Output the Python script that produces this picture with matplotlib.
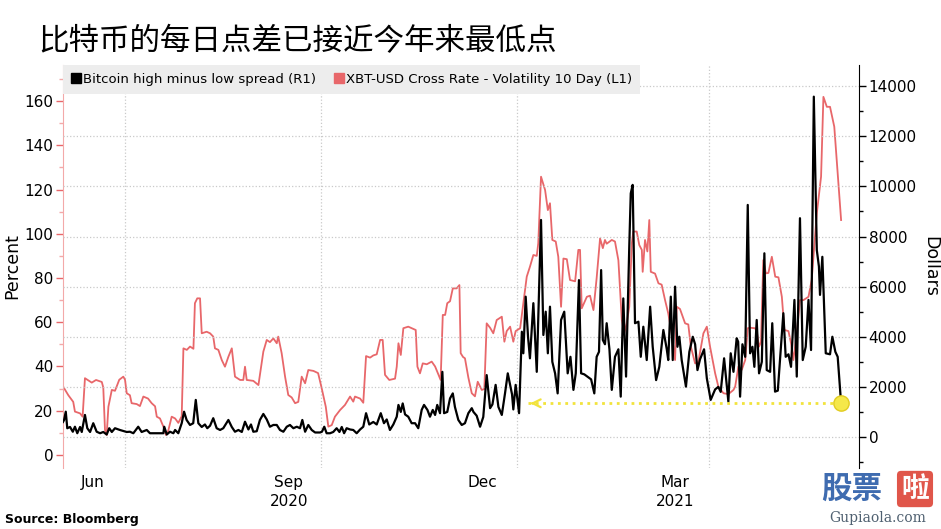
import pandas as pd
import matplotlib
matplotlib.use("Agg")
import matplotlib.pyplot as plt
from matplotlib.lines import Line2D
from matplotlib.ticker import MultipleLocator

plt.rcParams['font.family'] = ['DejaVu Sans', 'Noto Sans CJK SC']

start = pd.Timestamp("2020-06-02")

# XBT-USD 10 day volatility (percent, left axis); days after start
vol_days = [0, 2.5, 4.8, 5.6, 8.0, 9.2, 10.3, 13.5, 15.5, 18.2, 18.9, 19.7, 20.5, 21.3, 22.9, 24.4,
            26.4, 28.3, 29.1, 29.9, 31.4, 32.2, 34.6, 36.1, 37.7, 39.9, 41.6, 43.2, 44.0, 45.5, 47.1,
            48.3, 49.4, 51.0, 52.6, 54.1, 55.7, 56.5, 58.1, 59.6, 61.2, 61.9, 63.0, 64.3, 65.1, 67.4,
            69.0, 70.5, 71.3, 72.9, 74.5, 76.0, 77.6, 79.2, 80.7, 83.1, 84.6, 85.4, 86.2, 89.3, 91.7,
            94.0, 95.6, 97.1, 98.7, 100.3, 101.0, 102.6, 104.2, 105.7, 107.3, 108.9, 110.4, 112.0,
            113.6, 115.1, 117.5, 119.7, 121.4, 123.3, 124.5, 126.1, 127.6, 130.0, 132.3, 134.7, 136.2,
            137.0, 139.4, 140.9, 142.2, 144.1, 145.6, 147.2, 148.8, 150.0, 151.1, 153.1, 155.8, 156.6,
            157.4, 158.5, 159.7, 162.0, 164.4, 165.5, 166.3, 167.5, 168.8, 170.7, 173.0, 174.6, 177.2,
            178.2, 179.3, 180.3, 181.6, 182.9, 184.7, 186.0, 186.6, 187.7, 188.6, 190.2, 191.8, 193.3,
            194.6, 196.5, 197.7, 198.8, 200.4, 201.9, 203.5, 205.9, 207.1, 208.2, 209.8, 211.3, 212.4,
            214.5, 216.0, 217.6, 219.1, 220.7, 222.3, 223.0, 224.3, 226.2, 227.5, 228.5, 229.6, 231.2,
            232.4, 233.7, 234.8, 236.4, 237.9, 240.3, 241.8, 242.6, 243.4, 245.8, 247.3, 248.9, 250.4,
            252.0, 253.3, 254.3, 255.1, 257.5, 259.0, 260.6, 262.2, 263.3, 264.5, 265.7, 266.9, 267.6,
            269.2, 270.4, 271.6, 272.0, 273.1, 274.2, 275.1, 275.8, 277.8, 279.4, 280.9, 282.5, 284.0,
            285.6, 287.2, 288.0, 289.5, 291.9, 293.4, 294.6, 296.6, 298.1, 300.5, 302.1, 303.6, 306.0,
            307.5, 309.9, 312.2, 314.6, 315.4, 316.9, 318.5, 320.1, 321.3, 322.4, 324.7, 325.5, 326.6,
            327.5, 328.6, 329.8, 331.0, 332.6, 334.2, 335.7, 337.3, 338.5, 340.4, 341.6, 342.7, 344.3,
            345.8, 347.4, 349.8, 351.3, 353.7, 355.7, 356.8, 358.4, 359.9, 361.9, 365.1]
vol_pct = [31, 27, 24, 19.6, 18.8, 17.3, 34.7, 32.7, 33.9, 33, 30.5, 11.3, 9, 21.8, 29.4, 29,
           34, 35.4, 34, 27.9, 27, 23.4, 23, 22.1, 26.4, 25.5, 23.4, 22, 17.3, 16.5, 12.8,
           9, 11, 17.3, 16.5, 14.5, 17.5, 48.2, 47.5, 49, 48, 68.6, 70.8, 70.8, 55, 55.7,
           55, 53.5, 48.2, 47.5, 42.9, 39.9, 44.4, 48.2, 35.4, 33.9, 33.9, 39.9, 33.9, 33.5, 31.6,
           46.7, 52, 51, 52.7, 50.5, 53.5, 46, 35.4, 27.1, 26, 23.4, 24, 35.4,
           32.4, 38.4, 38, 37, 30.1, 21.8, 12.8, 13.5, 17.3, 20.3, 22.6, 26.4, 24.1,
           26.4, 25.5, 23.6, 44.7, 44, 45, 45.5, 52, 52, 36.2, 33.9, 34.5, 39.9,
           50.5, 45.2, 57.3, 58, 57, 56.5, 39.9, 36.9, 41.4, 41, 42.2, 40, 33.9,
           63.3, 63.3, 68.6, 69.5, 75.3, 75.3, 76.8, 46, 44.3, 43.7, 35, 27.9, 26.5,
           33.1, 29.4, 29.8, 59.5, 57.5, 55, 61, 62.5, 51.2, 56, 58, 51.2, 56,
           57.3, 68.6, 80.6, 85.1, 90.4, 90, 95.7, 125.8, 119.8, 110.7, 113.8, 97.2, 96.5,
           89.6, 67, 88.8, 88.5, 79.1, 78.5, 92.7, 92.7, 66.3, 71.5, 72, 65.5, 80,
           97.9, 93.5, 97.2, 95.5, 97.2, 96.5, 88, 61, 55, 59.5, 67, 95.7, 101,
           101, 94.9, 92.7, 82.8, 97.2, 92, 106.2, 82.8, 82, 77.6, 77, 70, 64,
           55, 42.9, 67, 66, 59.5, 59, 49, 41.4, 42, 55, 58, 49, 36.9,
           30.9, 27.9, 27.5, 29.4, 30.9, 39.9, 38.5, 42.9, 57.3, 57.5, 57.3, 56, 49,
           51, 88.1, 82.1, 82.3, 89.6, 80.6, 80.3, 71.5, 56.5, 56, 50.5, 42.9, 55,
           70, 70, 71.5, 79.1, 109.2, 125.8, 161.9, 157.4, 157.4, 148.4, 106.2]

# Bitcoin high minus low spread (dollars, right axis); days after start
spread_days = [0, 0.5, 1.3, 2.0, 3.3, 4.6, 5.6, 6.7, 8.0, 8.8, 10.3, 11.4, 12.7, 14.2, 15.8, 17.4,
               18.9, 20.5, 21.7, 22.9, 24.4, 26.7, 29.9, 31.4, 33.0, 35.3, 36.9, 39.3, 40.8, 45.5,
               47.1, 47.5, 48.7, 50.2, 51.8, 52.6, 54.1, 55.7, 56.8, 58.0, 59.6, 61.1, 62.3, 63.5,
               65.1, 66.6, 67.7, 69.0, 70.5, 72.1, 73.7, 75.2, 77.6, 79.2, 80.7, 82.3, 83.9, 85.4,
               87.0, 88.2, 89.3, 90.9, 92.4, 94.0, 95.6, 97.1, 98.7, 100.3, 101.8, 103.4, 105.0,
               106.5, 108.1, 109.7, 111.2, 112.3, 113.6, 115.1, 116.7, 118.3, 120.6, 121.5, 122.6,
               123.7, 125.3, 126.8, 128.4, 129.7, 130.8, 131.9, 133.1, 134.7, 136.2, 137.8, 139.4,
               140.9, 142.2, 143.7, 145.6, 147.2, 149.1, 150.6, 151.9, 153.4, 155.0, 156.6, 157.4,
               158.5, 159.4, 160.5, 162.0, 163.6, 165.2, 166.7, 168.3, 169.4, 171.0, 172.2, 173.5,
               174.6, 175.6, 176.9, 178.0, 178.8, 180.3, 181.6, 182.9, 183.9, 185.5, 187.1, 188.6,
               190.2, 191.8, 192.6, 194.1, 195.7, 197.2, 198.8, 200.4, 201.5, 203.0, 204.3, 205.9,
               207.4, 208.7, 210.7, 211.3, 212.4, 214.0, 215.3, 216.0, 217.1, 218.2, 219.1, 220.7,
               222.3, 224.3, 225.4, 226.5, 227.5, 228.5, 229.6, 230.9, 232.1, 233.7, 235.2, 236.8,
               238.1, 239.5, 240.6, 242.1, 243.1, 244.6, 246.2, 247.8, 249.3, 250.4, 251.5, 252.5,
               253.3, 254.3, 255.1, 256.4, 257.5, 259.0, 260.6, 261.7, 262.9, 264.2, 265.7, 266.4,
               267.3, 268.4, 270.0, 271.1, 272.3, 273.9, 275.5, 276.7, 278.3, 279.8, 281.7, 283.3,
               284.0, 285.2, 286.1, 287.2, 288.3, 289.2, 290.3, 292.3, 293.9, 295.5, 296.6, 297.7,
               298.9, 300.8, 302.1, 303.9, 306.0, 307.5, 308.6, 310.2, 312.2, 313.3, 314.6, 316.1,
               316.8, 317.7, 318.8, 320.1, 321.3, 322.4, 323.5, 324.4, 325.5, 326.6, 327.9, 329.1,
               330.2, 331.8, 332.8, 334.1, 335.4, 336.9, 338.0, 339.1, 340.4, 341.6, 343.2, 344.3,
               345.8, 347.1, 348.5, 349.8, 351.0, 352.3, 353.7, 354.7, 355.2, 356.3, 357.9, 359.9,
               361.0, 362.4, 363.5, 365.1]
spread_usd = [600, 680, 1010, 350, 400, 210, 410, 150, 400, 200, 880, 350, 200, 550, 210, 150,
              200, 100, 350, 200, 350, 280, 200, 210, 150, 410, 200, 280, 150, 150,
              150, 410, 100, 210, 150, 280, 150, 550, 1010, 680, 480, 550, 1480, 550,
              400, 500, 350, 450, 750, 350, 280, 350, 680, 400, 210, 280, 200, 610,
              300, 500, 210, 230, 680, 920, 700, 410, 480, 480, 280, 210, 410,
              480, 350, 410, 350, 680, 210, 480, 280, 180, 180, 210, 410,
              150, 150, 200, 350, 200, 400, 150, 350, 300, 280, 150, 300,
              410, 950, 500, 600, 500, 950, 550, 700, 280, 500, 810, 1280,
              1000, 1340, 900, 810, 550, 550, 350, 1080, 1280, 1080, 810, 1080,
              880, 1280, 950, 2600, 950, 1000, 1540, 1740, 1200, 680, 480, 550,
              950, 1150, 1000, 850, 410, 800, 2470, 1150, 1300, 2080, 1200, 880,
              1740, 2540, 1700, 1100, 2080, 950, 4200, 3340, 5600, 4000, 3140, 5340,
              2600, 8660, 4070, 5000, 3340, 5200, 3000, 2540, 1740, 4670, 5000, 2540,
              3200, 1880, 2540, 6260, 2540, 2500, 2400, 2300, 1740, 3200, 3400, 6660,
              3870, 3700, 4540, 3500, 1880, 3200, 3500, 1610, 5530, 2410, 7590, 9720,
              10060, 4540, 4600, 3200, 4400, 3070, 5200, 3600, 2270, 2800, 4270, 3500,
              3070, 5600, 3070, 6000, 3600, 4000, 3070, 2010, 3400, 4000, 3700, 2670,
              3100, 3500, 2340, 1480, 1900, 2000, 1800, 3140, 1410, 3340, 2600, 3940,
              3800, 1610, 3700, 3200, 9260, 3340, 3600, 2800, 4670, 2540, 3000, 7330,
              2670, 2600, 4540, 1810, 1850, 3600, 4940, 3200, 3300, 2800, 5470, 2410,
              8730, 3070, 3600, 5470, 3470, 13580, 7460, 6800, 5670, 7190, 3340, 3300,
              4000, 3400, 3200, 1345]

month_ticks = ["2020-06-16", "2020-09-16", "2020-12-16", "2021-03-16"]
month_labels = ["Jun", "Sep\n2020", "Dec", "Mar\n2021"]
quarter_lines = ["2020-07-01", "2020-10-01", "2021-01-01", "2021-04-01"]
arrow_start = "2021-01-06"

red = "#e8676a"
pink = "#f3a9a9"
grid_c = "#c9c9c9"

vol_dates = start + pd.to_timedelta(vol_days, unit="D")
spread_dates = start + pd.to_timedelta(spread_days, unit="D")

fig = plt.figure(figsize=(9.41, 5.29), dpi=100)
ax1 = fig.add_axes([63 / 941, 1 - 468 / 529, 796 / 941, 403 / 529])
ax2 = ax1.twinx()

# vertical grid at quarter starts
for q in quarter_lines:
    ax1.axvline(pd.Timestamp(q), color=grid_c, ls=":", lw=0.9, zorder=0)

ax1.plot(vol_dates, vol_pct, color=red, lw=1.3)
ax2.plot(spread_dates, spread_usd, color="black", lw=1.6)

ax1.set_xlim(start, pd.Timestamp("2021-06-10 12:00"))

# horizontal grid follows the right axis
ax2.yaxis.grid(True, color=grid_c, ls=":", lw=0.9)
ax2.set_axisbelow(True)

ax1.yaxis.set_major_locator(MultipleLocator(20))
ax1.yaxis.set_minor_locator(MultipleLocator(10))
ax1.set_ylim(-5.9, 176.3)
ax2.yaxis.set_major_locator(MultipleLocator(2000))
ax2.yaxis.set_minor_locator(MultipleLocator(1000))
ax2.set_ylim(-1237, 14843)

ax1.set_xticks(pd.to_datetime(month_ticks))
ax1.set_xticklabels(month_labels, fontsize=11, linespacing=1.35)
ax1.tick_params(axis="x", length=0, pad=5)

ax1.tick_params(axis="y", which="major", colors=red, length=5, width=1, labelsize=11,
                labelcolor="black", pad=2)
ax1.tick_params(axis="y", which="minor", colors=pink, length=3, width=1)
ax2.tick_params(axis="y", which="major", colors="black", length=5, width=1, labelsize=11, pad=2)
ax2.tick_params(axis="y", which="minor", colors="black", length=3, width=1)

for s in ["top", "bottom", "right"]:
    ax1.spines[s].set_visible(False)
for s in ["top", "bottom", "left"]:
    ax2.spines[s].set_visible(False)
ax1.spines["left"].set_color(pink)
ax2.spines["right"].set_color("black")

ax1.set_ylabel("Percent", fontsize=12.5)
ax1.yaxis.set_label_coords(-0.053, 0.5)
ax2.set_ylabel("Dollars", fontsize=12.5, rotation=270, va="center")
ax2.yaxis.set_label_coords(1.089, 0.5)

# yellow marker: latest spread compared with the low since early January
last_date = spread_dates[-1]
last_val = spread_usd[-1]
ax2.plot([pd.Timestamp(arrow_start), last_date], [last_val, last_val], color="#f2e33c",
         ls=":", lw=2.0, zorder=4)
ax2.annotate("", xy=(pd.Timestamp(arrow_start), last_val),
             xytext=(pd.Timestamp(arrow_start) + pd.Timedelta(days=4), last_val),
             arrowprops=dict(arrowstyle="->", color="#f2e33c", lw=1.6, mutation_scale=14),
             zorder=4)
ax2.plot([last_date], [last_val], marker="o", ms=11, mfc="#f5e84a", mec="#e2cc20", mew=1,
         zorder=5)

handles = [Line2D([0], [0], marker="s", color="black", ls="none", ms=7),
           Line2D([0], [0], marker="s", color=red, ls="none", ms=7)]
labels = ["Bitcoin high minus low spread (R1)", "XBT-USD Cross Rate - Volatility 10 Day (L1)"]
leg = ax2.legend(handles, labels, loc="upper left", bbox_to_anchor=(0, 1), ncol=2,
                 fontsize=9.5, frameon=True, fancybox=False, borderaxespad=0,
                 handlelength=0.7, handletextpad=0.2, columnspacing=1.4, borderpad=0.6)
leg.get_frame().set_facecolor("#ededed")
leg.get_frame().set_edgecolor("none")
leg.get_frame().set_alpha(1)

fig.text(38 / 941, 1 - 42 / 529, "比特币的每日点差已接近今年来最低点", fontsize=22,
         family="Noto Sans CJK SC", fontweight="medium", va="center", ha="left")
fig.text(5 / 941, 1 - 520 / 529, "Source: Bloomberg", fontsize=9, fontweight="bold",
         va="center", ha="left")

# site watermark
fig.text(852 / 941, 1 - 489 / 529, "股票", fontsize=22, fontweight="bold", color="#3f6cb0",
         family="Noto Sans CJK SC", ha="center", va="center")
fig.text(915 / 941, 1 - 489 / 529, "啦", fontsize=20, fontweight="bold", color="white",
         family="Noto Sans CJK SC", ha="center", va="center",
         bbox=dict(boxstyle="round,pad=0.15", facecolor="#e0564a", edgecolor="none"))
fig.text(878 / 941, 1 - 518 / 529, "Gupiaola.com", fontsize=10, color="#4f6070",
         family="DejaVu Serif", ha="center", va="center")

fig.savefig("out.png", dpi=100)
